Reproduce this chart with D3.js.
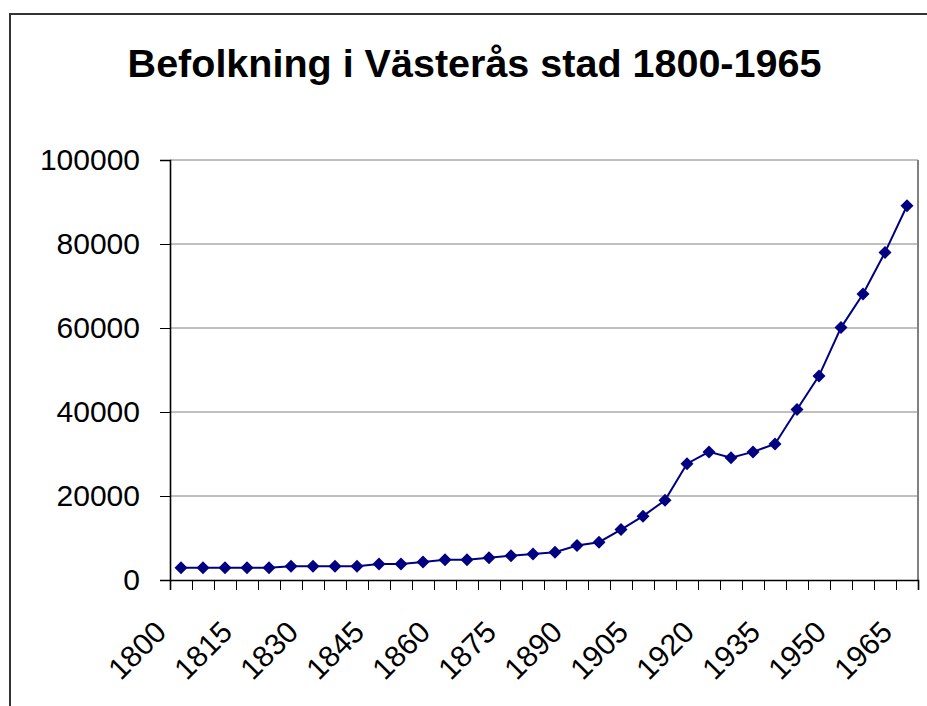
<!DOCTYPE html>
<html>
<head>
<meta charset="utf-8">
<script src="https://cdn.jsdelivr.net/npm/d3@7"></script>
<style>
  body { margin: 0; background: #fff; }
  svg { display: block; font-family: "Liberation Sans", Arial, sans-serif; }
</style>
</head>
<body>
<svg id="chart" width="927" height="706"></svg>
<script>
// Befolkning i Västerås stad, every 5th year
const years = [1800, 1805, 1810, 1815, 1820, 1825, 1830, 1835, 1840, 1845,
  1850, 1855, 1860, 1865, 1870, 1875, 1880, 1885, 1890, 1895,
  1900, 1905, 1910, 1915, 1920, 1925, 1930, 1935, 1940, 1945,
  1950, 1955, 1960, 1965];
const population = [2900, 2900, 2900, 2900, 2900, 3300, 3300, 3300, 3300, 3800,
  3800, 4300, 4800, 4800, 5300, 5800, 6200, 6600, 8200, 9000,
  12000, 15200, 19000, 27700, 30500, 29100, 30500, 32400, 40600, 48600,
  60100, 68100, 78000, 89100];
const yTicks = [0, 20000, 40000, 60000, 80000, 100000];
const xLabels = [1800, 1815, 1830, 1845, 1860, 1875, 1890, 1905, 1920, 1935, 1950, 1965];

const title = 'Befolkning i Västerås stad 1800-1965';

const svg = d3.select('#chart');
const plot = { left: 170, right: 918, top: 160, bottom: 580 };

// chart area border
svg.append('rect')
  .attr('x', 10)
  .attr('y', 14)
  .attr('width', 940)
  .attr('height', 720)
  .attr('fill', '#fff')
  .attr('stroke', '#333')
  .attr('stroke-width', 2);

svg.append('text')
  .attr('x', 474.5)
  .attr('y', 77)
  .attr('text-anchor', 'middle')
  .style('font-size', '39.5px')
  .style('font-weight', 'bold')
  .text(title);

const x = d3.scaleBand()
  .domain(years)
  .range([plot.left, plot.right])
  .padding(0);

const y = d3.scaleLinear()
  .domain([0, 100000])
  .range([plot.bottom, plot.top]);

// gridlines
svg.append('g')
  .selectAll('line')
  .data(yTicks.slice(1))
  .join('line')
  .attr('x1', plot.left)
  .attr('x2', plot.right)
  .attr('y1', d => y(d))
  .attr('y2', d => y(d))
  .attr('stroke', '#808080')
  .attr('stroke-width', 1);

// right border of plot area
svg.append('line')
  .attr('x1', plot.right)
  .attr('x2', plot.right)
  .attr('y1', plot.top)
  .attr('y2', plot.bottom)
  .attr('stroke', '#808080')
  .attr('stroke-width', 2);

// y axis
const yAxis = svg.append('g')
  .attr('transform', `translate(${plot.left},0)`)
  .call(d3.axisLeft(y).tickValues(yTicks).tickSize(10).tickPadding(20).tickFormat(d => d));
yAxis.select('.domain').attr('stroke', '#000').attr('stroke-width', 1.6);
yAxis.selectAll('.tick line').attr('stroke', '#000');
yAxis.selectAll('.tick text')
  .style('font-size', '30px')
  .style('font-family', '"Liberation Sans", Arial, sans-serif')
  .attr('fill', '#000');

// x axis tick marks at category boundaries
const xEdge = d3.scaleLinear().domain([0, years.length]).range([plot.left, plot.right]);
const xAxis = svg.append('g')
  .attr('transform', `translate(0,${plot.bottom})`)
  .call(d3.axisBottom(xEdge).tickValues(d3.range(years.length + 1)).tickSize(10).tickFormat(''));
xAxis.select('.domain').attr('stroke', '#000').attr('stroke-width', 1.6);
xAxis.selectAll('.tick line').attr('stroke', '#000');

// rotated category labels
svg.append('g')
  .selectAll('text')
  .data(xLabels)
  .join('text')
  .attr('transform', d => `translate(${x(d) + x.bandwidth() / 2 - 13},634) rotate(-45)`)
  .attr('text-anchor', 'end')
  .style('font-size', '30px')
  .attr('fill', '#000')
  .text(d => d);

// series
const points = years.map((yr, i) => ({ year: yr, value: population[i] }));
const cx = d => x(d.year) + x.bandwidth() / 2;

svg.append('path')
  .datum(points)
  .attr('fill', 'none')
  .attr('stroke', '#000080')
  .attr('stroke-width', 2)
  .attr('d', d3.line().x(cx).y(d => y(d.value)));

svg.append('g')
  .selectAll('path')
  .data(points)
  .join('path')
  .attr('transform', d => `translate(${cx(d)},${y(d.value)})`)
  .attr('d', 'M0,-6.5L6.5,0L0,6.5L-6.5,0Z')
  .attr('fill', '#000080');
</script>
</body>
</html>
